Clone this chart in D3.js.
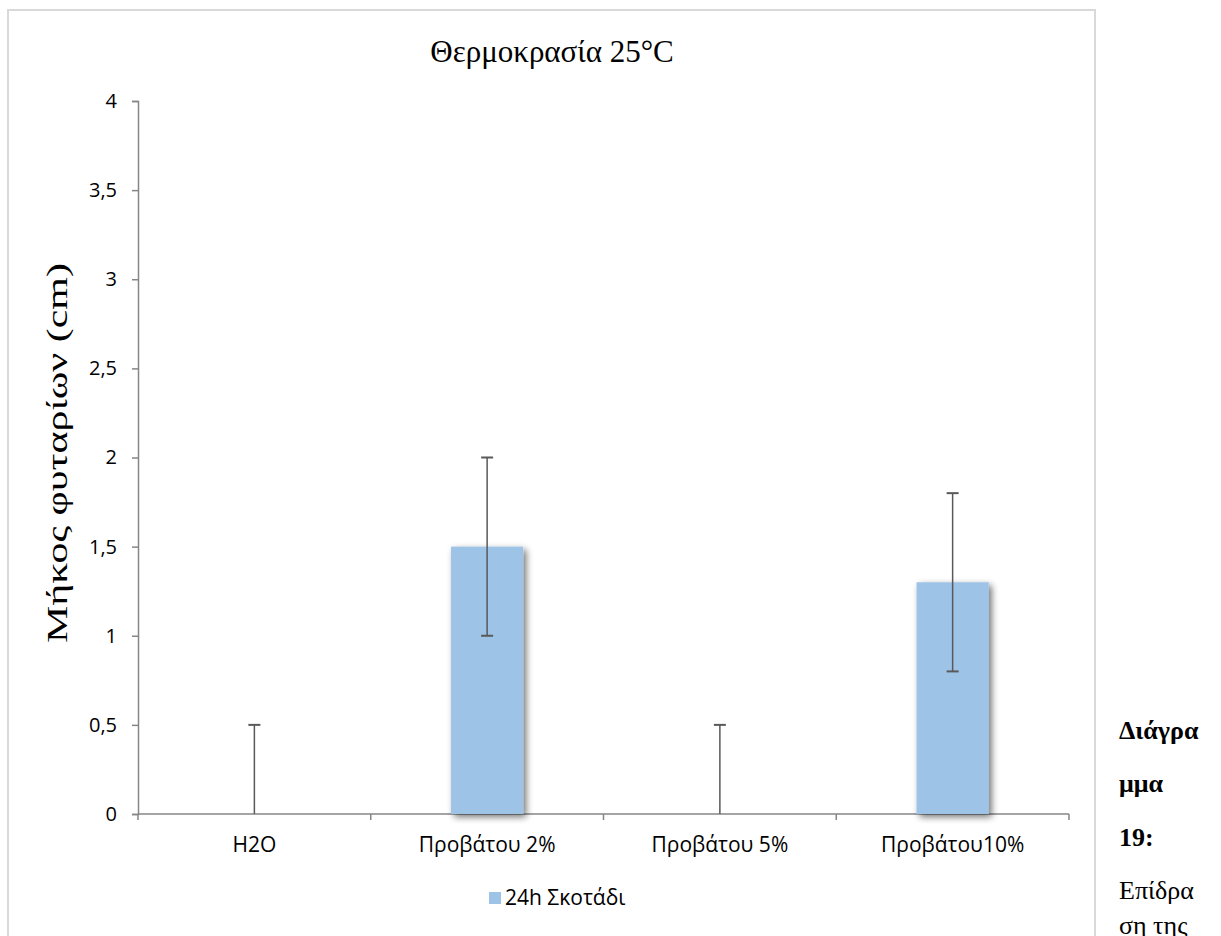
<!DOCTYPE html>
<html>
<head>
<meta charset="utf-8">
<script src="https://cdn.jsdelivr.net/npm/d3@7"></script>
<style>
  html, body { margin: 0; padding: 0; background: #fff; overflow: hidden; }
  svg { display: block; }
</style>
</head>
<body>
<svg id="chart" width="1221" height="936"></svg>
<script>
// Seedling length per treatment, 24h darkness
const categories = ["H2O", "Προβάτου 2%", "Προβάτου 5%", "Προβάτου10%"];
const values = [0, 1.5, 0, 1.3];
const errors = [0.5, 0.5, 0.5, 0.5];
const yTicks = [0, 0.5, 1, 1.5, 2, 2.5, 3, 3.5, 4];
const seriesName = "24h Σκοτάδι";
const chartTitle = "Θερμοκρασία 25°C";
const yTitle = "Μήκος φυταρίων (cm)";
const captionLines = [
  { text: "Διάγρα", bold: true },
  { text: "μμα", bold: true },
  { text: "19:", bold: true },
  { text: "Επίδρα", bold: false },
  { text: "ση της", bold: false }
];

const svg = d3.select("#chart");
const serif = "'Liberation Serif', 'Times New Roman', serif";
const sans = "'Open Sans', 'Noto Sans', sans-serif";

// Outer chart frame
svg.append("rect")
  .attr("x", 8).attr("y", 10)
  .attr("width", 1087).attr("height", 940)
  .attr("fill", "#fff")
  .attr("stroke", "#d9d9d9").attr("stroke-width", 2);

// Soft drop shadow under the bars
const defs = svg.append("defs");
const shadow = defs.append("filter").attr("id", "barShadow")
  .attr("x", "-30%").attr("y", "-10%").attr("width", "160%").attr("height", "130%");
shadow.append("feGaussianBlur").attr("in", "SourceAlpha").attr("stdDeviation", 3.5).attr("result", "blur");
shadow.append("feOffset").attr("in", "blur").attr("dx", 3).attr("dy", 3).attr("result", "off");
shadow.append("feComponentTransfer").attr("in", "off").attr("result", "sh")
  .append("feFuncA").attr("type", "linear").attr("slope", 0.55);
const merge = shadow.append("feMerge");
merge.append("feMergeNode").attr("in", "sh");
merge.append("feMergeNode").attr("in", "SourceGraphic");

const plot = { left: 138, right: 1069, top: 101, bottom: 814 };

const x = d3.scaleBand()
  .domain(categories)
  .range([plot.left, plot.right])
  .paddingInner(0.69).paddingOuter(0.345);

const y = d3.scaleLinear().domain([0, 4]).range([plot.bottom, plot.top]);

const axisColor = "#868686";

// Title
svg.append("text")
  .attr("x", 552).attr("y", 62)
  .attr("text-anchor", "middle")
  .attr("font-family", serif)
  .attr("font-size", 31)
  .attr("fill", "#000")
  .text(chartTitle);

// Y axis title, stretched along its length to fill the axis span
const yt = svg.append("text")
  .attr("text-anchor", "middle")
  .attr("font-family", serif)
  .attr("font-size", 30)
  .attr("fill", "#000")
  .text(yTitle);
const ytLen = yt.node().getComputedTextLength();
const ytScale = 380 / ytLen;
yt.attr("transform", `translate(67,453) rotate(-90) scale(${ytScale},1)`);

// Y axis
const yAxis = svg.append("g")
  .attr("transform", `translate(${plot.left},0)`)
  .call(d3.axisLeft(y).tickValues(yTicks).tickSize(6).tickPadding(15)
    .tickFormat(d => String(d).replace(".", ",")));
yAxis.select(".domain").attr("stroke", axisColor).attr("stroke-width", 1.5);
yAxis.selectAll(".tick line").attr("stroke", axisColor).attr("stroke-width", 1.5);
yAxis.selectAll(".tick text")
  .attr("font-family", sans).attr("font-size", 20).attr("fill", "#000");

// X axis with tick marks on category boundaries
const xAxisG = svg.append("g").attr("transform", `translate(0,${plot.bottom})`);
xAxisG.append("line")
  .attr("x1", plot.left).attr("x2", plot.right)
  .attr("stroke", axisColor).attr("stroke-width", 1.5);
const step = x.step();
const boundaries = d3.range(categories.length + 1).map(i => plot.left + i * step);
xAxisG.selectAll("line.tk").data(boundaries).join("line")
  .attr("class", "tk")
  .attr("x1", d => d).attr("x2", d => d)
  .attr("y1", 0).attr("y2", 6)
  .attr("stroke", axisColor).attr("stroke-width", 1.5);
xAxisG.selectAll("text").data(categories).join("text")
  .attr("x", d => x(d) + x.bandwidth() / 2)
  .attr("y", 38)
  .attr("text-anchor", "middle")
  .attr("font-family", sans).attr("font-size", 21)
  .attr("fill", "#000")
  .text(d => d);

// Bars
const data = categories.map((c, i) => ({ c, v: values[i], e: errors[i] }));
svg.append("g").selectAll("rect").data(data.filter(d => d.v > 0)).join("rect")
  .attr("x", d => x(d.c))
  .attr("y", d => y(d.v))
  .attr("width", x.bandwidth())
  .attr("height", d => y(0) - y(d.v))
  .attr("fill", "#9dc3e6")
  .attr("filter", "url(#barShadow)");

// Error bars
const errColor = "#595959";
const eb = svg.append("g");
data.forEach(d => {
  const cx = x(d.c) + x.bandwidth() / 2;
  const lo = Math.max(0, d.v - d.e), hi = d.v + d.e;
  eb.append("line").attr("x1", cx).attr("x2", cx)
    .attr("y1", y(lo)).attr("y2", y(hi))
    .attr("stroke", errColor).attr("stroke-width", 1.5);
  eb.append("line").attr("x1", cx - 6).attr("x2", cx + 6)
    .attr("y1", y(hi)).attr("y2", y(hi))
    .attr("stroke", errColor).attr("stroke-width", 2);
  if (d.v - d.e > 0) {
    eb.append("line").attr("x1", cx - 6).attr("x2", cx + 6)
      .attr("y1", y(lo)).attr("y2", y(lo))
      .attr("stroke", errColor).attr("stroke-width", 2);
  }
});

// Legend
const lg = svg.append("g").attr("transform", "translate(489,892)");
lg.append("rect").attr("width", 12).attr("height", 12).attr("fill", "#9dc3e6");
lg.append("text").attr("x", 16).attr("y", 13)
  .attr("font-family", sans).attr("font-size", 21).attr("fill", "#000")
  .text(seriesName);

// Caption text beside the chart
const captionY = [739, 792, 846, 899, 934];
svg.append("g").selectAll("text").data(captionLines).join("text")
  .attr("x", 1119)
  .attr("y", (d, i) => captionY[i])
  .attr("font-family", serif)
  .attr("font-size", 26)
  .attr("font-weight", d => d.bold ? "bold" : "normal")
  .attr("fill", "#000")
  .text(d => d.text);
</script>
</body>
</html>
